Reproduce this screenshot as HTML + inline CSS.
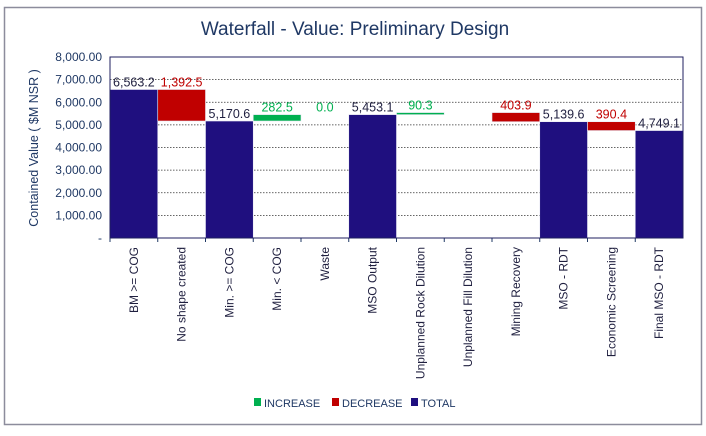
<!DOCTYPE html>
<html><head><meta charset="utf-8"><style>
body{margin:0;background:#fff;}
svg text{font-family:"Liberation Sans",sans-serif;}
</style></head><body>
<svg width="706" height="431" xmlns="http://www.w3.org/2000/svg">
<rect x="4.5" y="7.5" width="697" height="417" fill="#fff" stroke="#8c8c9c" stroke-width="1.5"/>
<text x="355" y="35" text-anchor="middle" font-size="19" fill="#1f3864">Waterfall - Value: Preliminary Design</text>
<text transform="translate(38,148) rotate(-90)" text-anchor="middle" font-size="12.5" fill="#1f3864">Contained Value ( $M NSR )</text>
<g id="grid"></g><g id="bars"></g><g id="axes"></g>
<g font-size="11">
<rect x="254" y="398" width="7" height="8" fill="#00b050"/>
<text x="264" y="407" fill="#1f3864">INCREASE</text>
<rect x="332" y="398" width="7" height="8" fill="#c00000"/>
<text x="342" y="407" fill="#1f3864">DECREASE</text>
<rect x="411" y="398" width="7" height="8" fill="#1f0f7f"/>
<text x="421" y="407" fill="#1f3864">TOTAL</text>
</g>
</svg>
<script>
const categories=["BM >= COG","No shape created","Min. >= COG","Min. < COG","Waste","MSO Output","Unplanned Rock Dilution","Unplanned Fill Dilution","Mining Recovery","MSO - RDT","Economic Screening","Final MSO - RDT"];
const kinds=["total","decrease","total","increase","increase","total","increase","increase","decrease","total","decrease","total"];
const values=[6563.2,1392.5,5170.6,282.5,0.0,5453.1,90.3,0,403.9,5139.6,390.4,4749.1];
const labels=["6,563.2","1,392.5","5,170.6","282.5","0.0","5,453.1","90.3","","403.9","5,139.6","390.4","4,749.1"];
const yTicks=[0,1000,2000,3000,4000,5000,6000,7000,8000];
const yTickLabels=["-","1,000.00","2,000.00","3,000.00","4,000.00","5,000.00","6,000.00","7,000.00","8,000.00"];
const NS="http://www.w3.org/2000/svg";
const L=110,R=683,T=57,B=238,yMax=8000;
const n=categories.length,bw=(R-L)/n;
const y=v=>B-(v/yMax)*(B-T);
const x=i=>L+i*bw;
function mk(tag,attrs,parent,txt){const e=document.createElementNS(NS,tag);for(const k in attrs)e.setAttribute(k,attrs[k]);if(txt!==undefined)e.textContent=txt;parent.appendChild(e);return e;}
const grid=document.getElementById('grid'),bars=document.getElementById('bars'),axes=document.getElementById('axes');
yTicks.forEach((t,i)=>{
 if(t>0){const g=mk('line',{x1:L,x2:R,y1:y(t),y2:y(t),stroke:'#333','stroke-width':0.8,'stroke-dasharray':'1.5,1.5'},grid);
 
 }
 const tl=mk('text',{x:L-8,y:y(t)+4,'text-anchor':'end','font-size':12,fill:'#1f3864'},axes,yTickLabels[i]);
 
 
});
let run=0;
const colors={total:'#1f0f7f',increase:'#00b050',decrease:'#c00000'};
const lblColors={total:'#1f1f3f',increase:'#00b050',decrease:'#c00000'};
categories.forEach((c,i)=>{
 const k=kinds[i],v=values[i];let lo,hi;
 if(k==='total'){lo=0;hi=v;run=v;}
 else if(k==='increase'){lo=run;hi=run+v;run=hi;}
 else{hi=run;lo=run-v;run=lo;}
 const h=Math.max(y(lo)-y(hi),0);
 const r=mk('rect',{x:x(i),y:y(hi),width:bw,height:h,fill:colors[k],stroke:'#e8e8f4','stroke-width':0.6},bars);
 
 
 if(labels[i]){const t=mk('text',{x:x(i)+bw/2,y:y(hi)-3,'text-anchor':'middle','font-size':12.5,fill:lblColors[k]},bars,labels[i]);
 
 }
 const tk=mk('line',{x1:x(i),x2:x(i),y1:B,y2:B+4,stroke:'#1f3864'},axes);
 
 
 const cl=mk('text',{transform:`translate(${x(i)+bw/2+4},247) rotate(-90)`,'text-anchor':'end','font-size':12,fill:'#1f1f3f'},axes,c);
 
 
});
const ax=mk('rect',{x:L,y:T,width:R-L,height:B-T,fill:'none',stroke:'#1f1f5f','stroke-width':1},axes);


</script>
</body></html>
